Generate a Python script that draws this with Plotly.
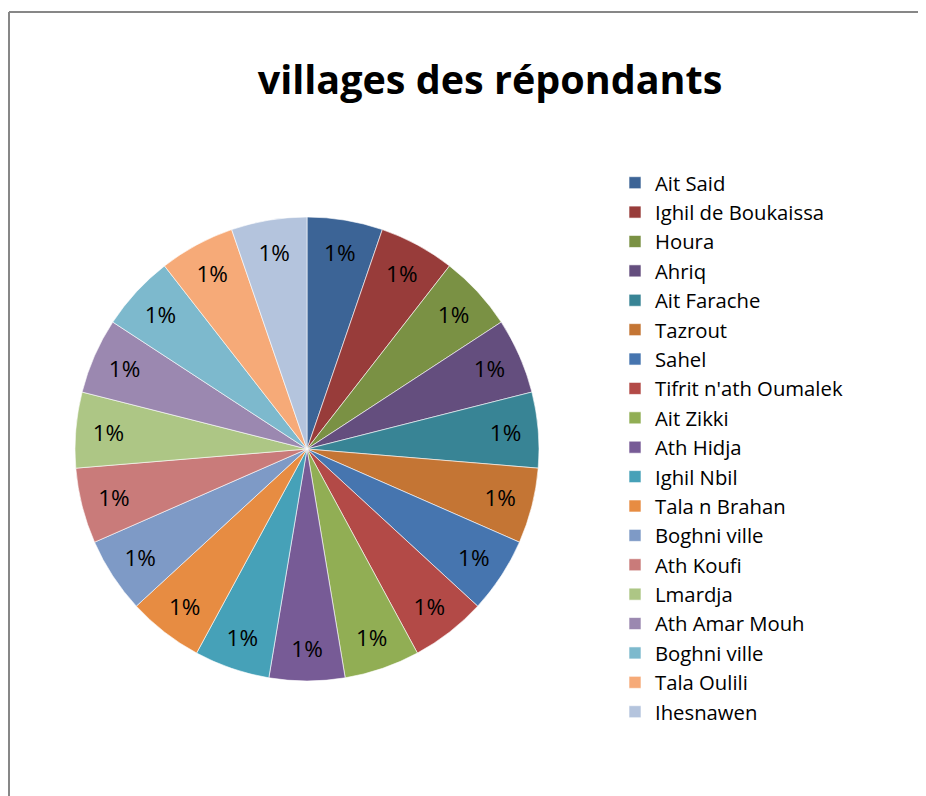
import plotly.graph_objects as go

villages = ["Ait Said", "Ighil de Boukaissa", "Houra", "Ahriq", "Ait Farache", "Tazrout",
            "Sahel", "Tifrit n'ath Oumalek", "Ait Zikki", "Ath Hidja", "Ighil Nbil",
            "Tala n Brahan", "Boghni ville", "Ath Koufi", "Lmardja", "Ath Amar Mouh",
            "Boghni ville ", "Tala Oulili", "Ihesnawen"]
values = [1, 1, 1, 1, 1, 1, 1, 1, 1, 1, 1, 1, 1, 1, 1, 1, 1, 1, 1]
pct_labels = ["1%"] * 19
colors = ["#3C6496", "#983C3A", "#7A9144", "#644E7E", "#388495", "#C47534",
          "#4675AF", "#B34A47", "#91AE54", "#775B96", "#46A1B8", "#E78C42",
          "#7E9AC6", "#C97B7A", "#ADC685", "#9B88B0", "#7DB9CD", "#F6AA78", "#B4C4DD"]

FONT = "Open Sans, Liberation Sans, Arial, sans-serif"

# page body has an 8px margin; work in figure pixels = page pixels - 8
OFF = 8
W, H = 926 - OFF, 796 - OFF
cx, cy, r = 307 - OFF, 449 - OFF, 232

fig = go.Figure(go.Pie(
    labels=villages, values=values, text=pct_labels, textinfo="text",
    sort=False, direction="clockwise", rotation=0,
    marker=dict(colors=colors, line=dict(color="#FFFFFF", width=0.6)),
    textposition="inside", insidetextorientation="horizontal",
    textfont=dict(family=FONT, size=22.5, color="#000000"),
    domain=dict(x=[(cx - r) / W, (cx + r) / W], y=[(H - cy - r) / H, (H - cy + r) / H]),
    hoverinfo="label+text",
))

fig.update_layout(
    width=W, height=H,
    margin=dict(l=0, r=0, t=0, b=0, autoexpand=False),
    paper_bgcolor="#FFFFFF", plot_bgcolor="#FFFFFF",
    title=dict(text="<b>villages des répondants</b>", x=(490 - OFF) / W, xanchor="center",
               y=1 - (80 - OFF) / H, yanchor="middle",
               font=dict(family=FONT, size=39.5, color="#000000")),
    legend=dict(x=(615 - OFF) / W, xanchor="left", y=1 - (163 - OFF) / H, yanchor="top",
                font=dict(family=FONT, size=20.3, color="#000000"),
                bgcolor="rgba(0,0,0,0)", traceorder="normal", itemclick=False),
    shapes=[
        dict(type="line", xref="paper", yref="paper", x0=(9 - OFF) / W, x1=1,
             y0=1 - (12 - OFF) / H, y1=1 - (12 - OFF) / H,
             line=dict(color="#878787", width=2)),
        dict(type="line", xref="paper", yref="paper", x0=(9 - OFF) / W, x1=(9 - OFF) / W,
             y0=0, y1=1 - (12 - OFF) / H,
             line=dict(color="#878787", width=2)),
    ],
)

fig.write_html("out.html")
